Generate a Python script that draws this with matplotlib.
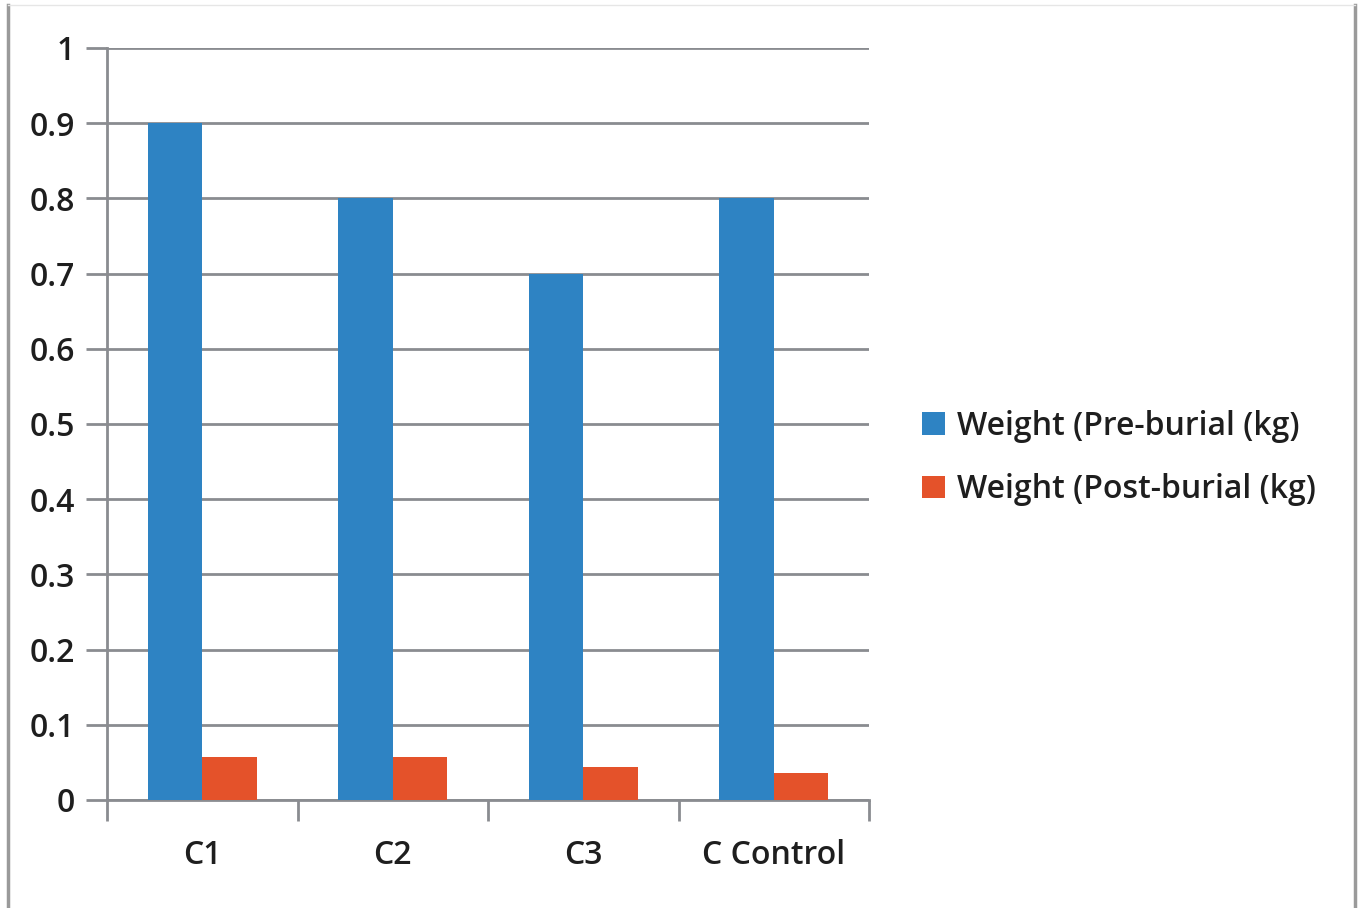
import matplotlib
matplotlib.use("Agg")
import matplotlib.pyplot as plt
from matplotlib.lines import Line2D
import numpy as np

categories = ["C1", "C2", "C3", "C Control"]
pre_burial = [0.9, 0.8, 0.7, 0.8]
post_burial = [0.057, 0.057, 0.044, 0.036]
series_names = ["Weight (Pre-burial (kg)", "Weight (Post-burial (kg)"]
y_ticks = [0, 0.1, 0.2, 0.3, 0.4, 0.5, 0.6, 0.7, 0.8, 0.9, 1]
y_tick_labels = ["0", "0.1", "0.2", "0.3", "0.4", "0.5", "0.6", "0.7", "0.8", "0.9", "1"]

blue = "#2E83C3"
orange = "#E4522A"
grid_gray = "#8A8C90"
text_color = "#1E1E1E"

plt.rcParams["font.family"] = ["Open Sans", "DejaVu Sans"]
plt.rcParams["font.weight"] = "semibold"

fig = plt.figure(figsize=(13.6, 9.08), dpi=100)
ax = fig.add_axes([107 / 1360, 1 - 800 / 908, (869 - 107) / 1360, (800 - 48) / 908])

x = np.arange(len(categories))
w = 0.285
ax.bar(x - w / 2, pre_burial, width=w, color=blue, label=series_names[0], zorder=3)
ax.bar(x + w / 2, post_burial, width=w, color=orange, label=series_names[1], zorder=3)

ax.set_xlim(-0.5, len(categories) - 0.5)
ax.set_ylim(0, 1)
ax.set_yticks(y_ticks)
ax.set_yticklabels(y_tick_labels)
ax.yaxis.grid(True, color=grid_gray, linewidth=2, zorder=0)
ax.set_axisbelow(True)

ax.set_xticks(x)
ax.set_xticklabels(categories)
ax.set_xticks(np.arange(len(categories) + 1) - 0.5, minor=True)
ax.tick_params(axis="x", which="major", length=0, pad=28, labelsize=23, labelcolor=text_color)
ax.tick_params(axis="x", which="minor", length=15, width=2, color=grid_gray)
ax.tick_params(axis="y", length=15, width=2, color=grid_gray, pad=8, labelsize=23, labelcolor=text_color)

for side in ["top", "right"]:
    ax.spines[side].set_visible(False)
for side in ["left", "bottom"]:
    ax.spines[side].set_color(grid_gray)
    ax.spines[side].set_linewidth(2)

ax.legend(loc="center left", bbox_to_anchor=(1.049, 0.455), frameon=False, borderpad=0,
          fontsize=23, handlelength=0.7, handleheight=0.7, handletextpad=0.4,
          labelspacing=0.95, labelcolor=text_color)

# outer frame lines
fig.add_artist(Line2D([8 / 1360, 8 / 1360], [0, 1 - 5 / 908], color="#9A9A9A", linewidth=2.5))
fig.add_artist(Line2D([1355 / 1360, 1355 / 1360], [0, 1 - 5 / 908], color="#9A9A9A", linewidth=2.5))
fig.add_artist(Line2D([8 / 1360, 1355 / 1360], [1 - 5 / 908, 1 - 5 / 908], color="#E6E6E6", linewidth=1))

fig.savefig("out.png", dpi=100)
